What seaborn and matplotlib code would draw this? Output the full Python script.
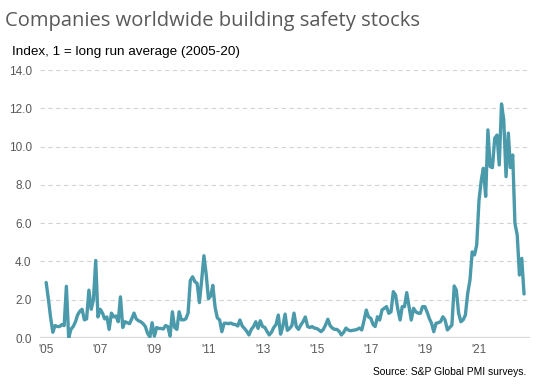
import matplotlib
matplotlib.use("Agg")
import matplotlib.pyplot as plt
import seaborn as sns
import pandas as pd

# Monthly index values, Jan 2005 onwards
v2005 = [2.9, 2.0, 1.1, 0.3, 0.65, 0.6, 0.6, 0.7, 0.65, 2.7, 0.0, 0.45]
v2006 = [0.6, 0.85, 1.2, 1.4, 1.5, 0.95, 1.0, 2.5, 1.5, 2.0, 4.05, 1.1]
v2007 = [1.5, 1.3, 1.0, 1.1, 0.45, 1.3, 1.1, 1.15, 0.85, 2.15, 0.55, 0.85]
v2008 = [0.8, 0.75, 1.0, 1.3, 1.0, 0.9, 0.85, 0.75, 0.6, 0.25, 0.05, 0.8]
v2009 = [0.1, 0.55, 0.5, 0.5, 0.47, 0.65, 0.6, 0.1, 1.37, 0.55, 0.45, 1.37]
v2010 = [0.95, 0.95, 1.0, 1.3, 3.0, 3.2, 2.95, 2.85, 1.85, 3.0, 4.3, 3.35]
v2011 = [2.05, 2.2, 2.75, 1.6, 1.05, 0.95, 0.33, 0.77, 0.77, 0.75, 0.78, 0.72]
v2012 = [0.7, 0.63, 0.94, 0.63, 0.5, 0.35, 0.16, 0.45, 0.6, 0.85, 0.5, 0.9]
v2013 = [0.6, 0.55, 0.35, 0.16, 0.3, 0.55, 0.7, 1.2, 0.2, 0.6, 1.25, 0.4]
v2014 = [0.5, 0.65, 1.3, 0.6, 0.45, 0.68, 0.85, 1.1, 0.6, 0.55, 0.6, 0.52]
v2015 = [0.5, 0.42, 0.33, 0.45, 0.68, 0.98, 0.65, 0.52, 0.45, 0.45, 0.35, 0.16]
v2016 = [0.3, 0.52, 0.42, 0.38, 0.4, 0.42, 0.45, 0.52, 0.42, 0.9, 1.46, 1.1]
v2017 = [1.03, 0.7, 0.6, 1.11, 0.94, 1.46, 1.55, 1.64, 1.29, 1.37, 2.42, 2.25]
v2018 = [1.5, 0.94, 1.64, 1.64, 2.37, 1.64, 0.94, 1.55, 1.37, 1.3, 1.29, 1.64]
v2019 = [1.64, 1.35, 1.03, 0.77, 0.33, 0.77, 0.8, 0.85, 1.11, 0.94, 0.42, 0.55]
v2020 = [0.68, 2.72, 2.5, 1.29, 0.85, 0.95, 1.2, 2.33, 3.03, 4.5, 4.34, 4.86]
v2021 = [7.2, 8.25, 8.87, 7.4, 10.87, 8.95, 8.9, 10.43, 10.6, 9.04, 12.23, 11.4]
v2022 = [8.43, 10.7, 8.9, 9.56, 5.99, 5.38, 3.29, 4.16, 2.3]

values = (v2005 + v2006 + v2007 + v2008 + v2009 + v2010 + v2011 + v2012 + v2013
          + v2014 + v2015 + v2016 + v2017 + v2018 + v2019 + v2020 + v2021 + v2022)
dates = pd.date_range("2005-01-01", periods=len(values), freq="MS")
tick_years = [2005, 2007, 2009, 2011, 2013, 2015, 2017, 2019, 2021]
y_ticks = [0, 2, 4, 6, 8, 10, 12, 14]

df = pd.DataFrame({"date": dates, "value": values})

sns.set_theme(style="white")
plt.rcParams["font.family"] = ["Liberation Sans", "DejaVu Sans"]

fig = plt.figure(figsize=(5.43, 3.90), dpi=100)
ax = fig.add_axes([0.0737, 0.1333, 0.9023, 0.6872])

for t in y_ticks[1:]:
    ax.axhline(t, color="#d4d4d4", lw=0.8, ls=(0, (4, 3)), zorder=0)
ax.axhline(0, color="#d9d9d9", lw=1.6, zorder=1)

sns.lineplot(data=df, x="date", y="value", ax=ax, color="#4a9aab", lw=2.4, zorder=3)

ax.set_ylim(0, 14)
ax.set_xlim(pd.Timestamp("2004-10-10"), pd.Timestamp("2022-11-20"))
ax.set_yticks(y_ticks)
ax.set_yticklabels([f"{t:.1f}" for t in y_ticks], color="#595959", fontsize=8.5)
ax.set_xticks([pd.Timestamp(f"{y}-01-01") for y in tick_years])
ax.set_xticklabels([f"'{y % 100:02d}" for y in tick_years], color="#595959", fontsize=8.5)
ax.tick_params(axis="both", length=0, pad=4)
ax.tick_params(axis="y", pad=6)
ax.set_xlabel("")
ax.set_ylabel("")
for s in ax.spines.values():
    s.set_visible(False)

fig.text(0.009, 0.945, "Companies worldwide building safety stocks", fontsize=14.5,
         color="#595959", family=["Open Sans", "DejaVu Sans"], va="center", ha="left")
fig.text(0.022, 0.866, "Index, 1 = long run average (2005-20)", fontsize=9.7,
         color="#000000", va="center", ha="left")
fig.text(0.97, 0.045, "Source: S&P Global PMI surveys.", fontsize=7.4,
         color="#000000", va="center", ha="right")
fig.texts[-1].set_fontstretch("expanded")

fig.savefig("out.png", dpi=100)
